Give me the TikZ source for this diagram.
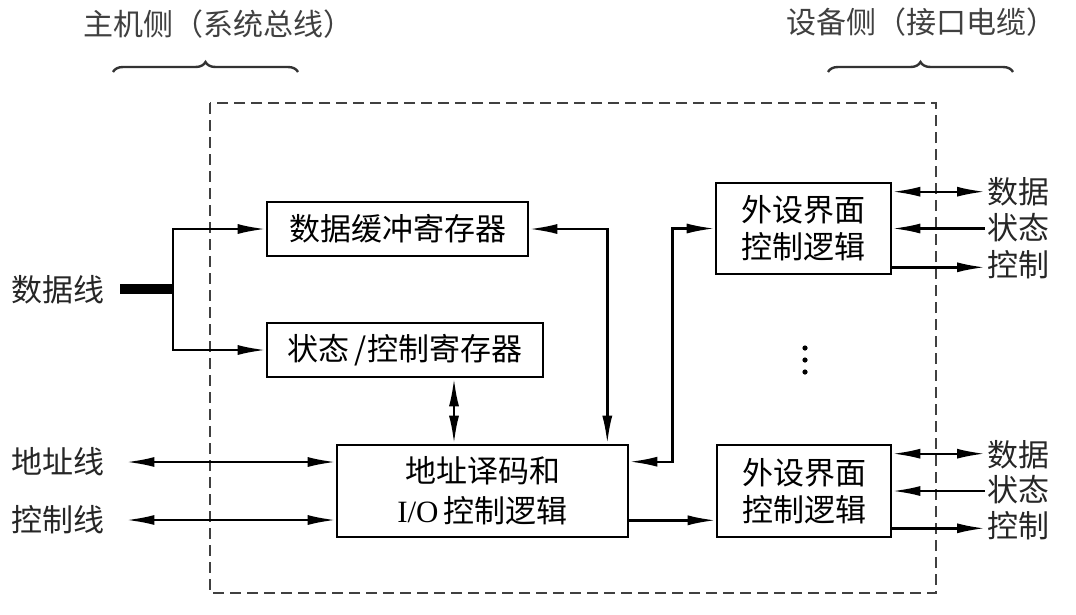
\documentclass[tikz,border=0pt]{standalone}
\usepackage{fontspec}
\setmainfont{Liberation Serif}
\newfontfamily\cjk{Noto Sans CJK SC}
\usetikzlibrary{arrows.meta,calc,decorations.pathreplacing}
\tikzset{
  box/.style={draw,line width=2.6pt,inner sep=0pt,align=center,font=\cjk\fontsize{31}{37}\selectfont},
  lab/.style={inner sep=2pt,font=\cjk\fontsize{31}{34}\selectfont,text=black!85},
  title/.style={inner sep=0pt,font=\cjk\fontsize{30}{32}\selectfont,text=black!75},
  conn/.style={line width=2.4pt},
  arr/.style={conn,-{Latex[length=28pt,width=10pt]}},
  dbl/.style={conn,{Latex[length=28pt,width=10pt]}-{Latex[length=28pt,width=10pt]}},
  larr/.style={conn,{Latex[length=28pt,width=10pt]}-},
  frame/.style={line width=2.6pt,dash pattern=on 11pt off 6pt,black!75},
  brc/.style={line width=2.4pt,black!80,decorate,decoration={brace,amplitude=10pt}},
}
\begin{document}
\begin{tikzpicture}[x=1pt,y=-1pt]
\useasboundingbox[fill=white] (0,0) rectangle (1076,614);

% titles and braces
\node[title] (t1) at (218,24) {主机侧（系统总线）};
\node[title] (t2) at (921,22) {设备侧（接口电缆）};
\coordinate (b1a) at (113,72);
\coordinate (b1b) at (298,72);
\coordinate (b2a) at (828,72);
\coordinate (b2b) at (1013,72);
\draw[brc] (b1a) -- (b1b);
\draw[brc] (b2a) -- (b2b);

% dashed frame
\coordinate (fa) at (210,103);
\coordinate (fb) at (936,593);
\draw[frame] (fa) rectangle (fb);

% boxes
\node[box,minimum width=261pt,minimum height=54pt] (db) at (397.5,229) {数据缓冲寄存器};
\node[box,minimum width=276pt,minimum height=54pt] (st) at (405,350) {状态\,/控制寄存器};
\node[box,minimum width=291pt,minimum height=92pt,font=\fontsize{31}{40}\selectfont] (ad) at (482.5,491) {{\cjk 地址译码和}\\I/O\,{\cjk 控制逻辑}};
\node[box,minimum width=175pt,minimum height=91pt] (p1) at (803.5,228.5) {外设界面\\控制逻辑};
\node[box,minimum width=174pt,minimum height=92pt] (p2) at (804,491) {外设界面\\控制逻辑};

% left labels
\node[lab,anchor=west] (dl) at (9,290) {数据线};
\node[lab,anchor=west] (al) at (9,462) {地址线};
\node[lab,anchor=west] (cl) at (9,520) {控制线};

% right labels
\node[lab,anchor=west] (r1a) at (985,192) {数据};
\node[lab,anchor=west] (r1b) at (985,228) {状态};
\node[lab,anchor=west] (r1c) at (985,265) {控制};
\node[lab,anchor=west] (r2a) at (985,455) {数据};
\node[lab,anchor=west] (r2b) at (985,490) {状态};
\node[lab,anchor=west] (r2c) at (985,526) {控制};

% data bus
\coordinate (j) at (173,289);
\draw[line width=10pt] (120,0 |- j) -- ([xshift=1.2pt]j);
\draw[arr] (j) |- (db.west);
\draw[arr] (j) |- (st.west);

% internal connections
\draw[dbl] (db.east) -| ($(ad.north east)+(-22,0)$);
\draw[dbl] ([xshift=49pt]st.south) -- ([xshift=49pt]st.south |- ad.north);
\draw[dbl] ($(ad.north east)+(0,18)$) -- ++(43,0) |- (p1.west);
\draw[arr] ($(ad.south east)+(0,-18)$) -- ($(p2.south west)+(0,-18)$);

% address and control lines
\draw[dbl] ([xshift=20pt]al.east) -- (ad.west |- al.east);
\draw[dbl] ([xshift=20pt]cl.east) -- (ad.west |- cl.east);

% right side lines
\draw[dbl] ($(p1.north east)+(0,10)$) -- (r1a.west |- {$(p1.north east)+(0,10)$});
\draw[larr] (p1.east) -- (r1b.west |- p1.east);
\draw[arr] ($(p1.south east)+(0,-8)$) -- (r1c.west |- {$(p1.south east)+(0,-8)$});
\draw[dbl] ($(p2.north east)+(0,10)$) -- (r2a.west |- {$(p2.north east)+(0,10)$});
\draw[larr] (p2.east) -- (r2b.west |- p2.east);
\draw[arr] ($(p2.south east)+(0,-10)$) -- (r2c.west |- {$(p2.south east)+(0,-10)$});

% vertical dots
\foreach \yy in {348,360,372} \fill (805,\yy) circle (2.6pt);
\end{tikzpicture}
\end{document}
